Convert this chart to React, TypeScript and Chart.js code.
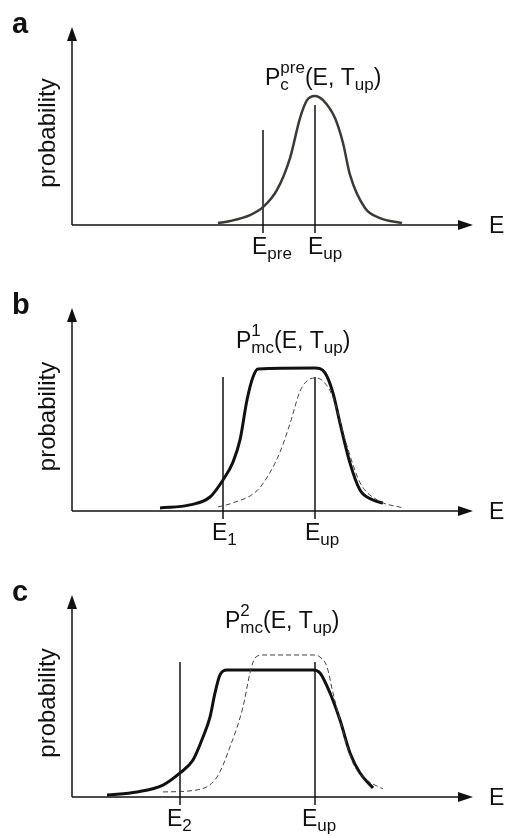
import React, { useEffect, useRef } from "react";
import { Chart, registerables } from "chart.js";

Chart.register(...registerables);

// ---------- data (energy in arbitrary units 0..100, probability 0..1) ----------
const aEnergy = [36.5, 39.5, 44.5, 47.75, 51.25, 54.5, 57, 58.75, 60.75, 62.75, 65.75, 67.75, 69.5, 73.25, 77, 82.5];
const aProb = [0.01, 0.02, 0.05, 0.09, 0.177, 0.338, 0.54, 0.631, 0.652, 0.631, 0.54, 0.414, 0.253, 0.086, 0.035, 0.01];

const bSolidEnergy = [22, 29.5, 34.5, 37.75, 40.25, 42, 43.75, 45.25, 46.5, 60.75, 63.25, 65.25, 67, 69.5, 72, 75.25, 77.75];
const bSolidProb = [0.015, 0.03, 0.069, 0.153, 0.241, 0.35, 0.547, 0.66, 0.7, 0.704, 0.68, 0.581, 0.433, 0.236, 0.103, 0.054, 0.039];
const bDashEnergy = [36.5, 40.25, 46.25, 49.5, 52, 54.5, 57, 59, 60.75, 62.75, 65.25, 68.75, 72, 76.25, 82.75];
const bDashProb = [0.02, 0.04, 0.1, 0.19, 0.29, 0.43, 0.59, 0.645, 0.655, 0.64, 0.56, 0.32, 0.14, 0.055, 0.015];

const cSolidEnergy = [8.75, 16.25, 22.75, 27, 30.25, 32.75, 34.5, 35.75, 37, 38.75, 60.25, 62, 64.5, 67, 69.5, 72, 75.25];
const cSolidProb = [0.01, 0.025, 0.059, 0.119, 0.183, 0.297, 0.396, 0.515, 0.604, 0.629, 0.629, 0.614, 0.515, 0.381, 0.218, 0.119, 0.045];
const cDashEnergy = [22.75, 31.25, 36.25, 39.5, 42.75, 44.5, 45.75, 47.75, 60.25, 62, 63.75, 65.25, 67, 70.25, 73.75, 77.75];
const cDashProb = [0.025, 0.035, 0.099, 0.248, 0.446, 0.614, 0.688, 0.703, 0.703, 0.693, 0.644, 0.515, 0.381, 0.168, 0.084, 0.04];

// marker lines: energy position and top height
const aMarkers = [47.75, 60.75];
const aMarkerTops = [0.48, 0.606];
const bMarkers = [37.75, 60.75];
const bMarkerTops = [0.66, 0.66];
const cMarkers = [27, 60.75];
const cMarkerTops = [0.668, 0.668];

const aMarkerLabels = [["E", "pre"], ["E", "up"]];
const bMarkerLabels = [["E", "1"], ["E", "up"]];
const cMarkerLabels = [["E", "2"], ["E", "up"]];

const FONT = '"Liberation Sans", Arial, Helvetica, sans-serif';

type Part = { t?: string; size: number; dy?: number; sup?: string; sub?: string };

function drawRich(ctx: CanvasRenderingContext2D, x: number, y: number, parts: Part[]) {
  let cx = x;
  for (const p of parts) {
    ctx.font = `${p.size}px ${FONT}`;
    if (p.t !== undefined) {
      ctx.fillText(p.t, cx, y + (p.dy || 0));
      cx += ctx.measureText(p.t).width;
    } else {
      const w1 = p.sup ? ctx.measureText(p.sup).width : 0;
      const w2 = p.sub ? ctx.measureText(p.sub).width : 0;
      if (p.sup) ctx.fillText(p.sup, cx, y - 12);
      if (p.sub) ctx.fillText(p.sub, cx, y + 5);
      cx += Math.max(w1, w2);
    }
  }
}

type PanelCfg = {
  height: number;
  padTop: number;
  padBottom: number;
  letter: string;
  title: Part[];
  titleX: number;
  titleY: number;
  datasets: any[];
  markers: number[];
  labels: string[][];
  labelOffsets: number[];
};

function makePlugin(cfg: PanelCfg) {
  return {
    id: "decor",
    afterDraw(chart: any) {
      const ctx: CanvasRenderingContext2D = chart.ctx;
      const xs = chart.scales.x;
      const ys = chart.scales.y;
      const x0 = xs.getPixelForValue(0);
      const x1 = xs.getPixelForValue(100);
      const y0 = ys.getPixelForValue(0);
      const y1 = ys.getPixelForValue(1);
      ctx.save();
      ctx.strokeStyle = "#111";
      ctx.fillStyle = "#111";
      ctx.lineWidth = 1.5;
      // y axis
      ctx.beginPath();
      ctx.moveTo(x0, y0);
      ctx.lineTo(x0, y1 + 10);
      ctx.stroke();
      ctx.beginPath();
      ctx.moveTo(x0, y1);
      ctx.lineTo(x0 - 5, y1 + 14);
      ctx.lineTo(x0 + 5, y1 + 14);
      ctx.closePath();
      ctx.fill();
      // x axis
      ctx.beginPath();
      ctx.moveTo(x0, y0);
      ctx.lineTo(x1 - 8, y0);
      ctx.stroke();
      ctx.beginPath();
      ctx.moveTo(x1 + 1, y0);
      ctx.lineTo(x1 - 14, y0 - 5);
      ctx.lineTo(x1 - 14, y0 + 5);
      ctx.closePath();
      ctx.fill();
      // axis label E
      ctx.font = `23px ${FONT}`;
      ctx.textBaseline = "alphabetic";
      ctx.fillText("E", x1 + 17, y0 + 8);
      // panel letter
      ctx.font = `bold 29px ${FONT}`;
      ctx.fillText(cfg.letter, 12, y1 + 6);
      // y label
      ctx.save();
      ctx.translate(55, (y0 + y1) / 2 + 7);
      ctx.rotate(-Math.PI / 2);
      ctx.font = `24px ${FONT}`;
      ctx.textAlign = "center";
      ctx.fillText("probability", 0, 0);
      ctx.restore();
      // title
      drawRich(ctx, cfg.titleX, cfg.titleY, cfg.title);
      // marker labels
      cfg.markers.forEach((m, i) => {
        const px = xs.getPixelForValue(m) + cfg.labelOffsets[i];
        const [main, sub] = cfg.labels[i];
        drawRich(ctx, px, y0 + 29, [
          { t: main, size: 23 },
          { t: sub, size: 17, dy: 5 },
        ]);
      });
      ctx.restore();
    },
  };
}

function pts(xsArr: number[], ysArr: number[]) {
  return xsArr.map((x, i) => ({ x, y: ysArr[i] }));
}

function markerSets(markers: number[], tops: number[]) {
  return markers.map((m, i) => ({
    data: [
      { x: m, y: -0.04 },
      { x: m, y: tops[i] },
    ],
    borderColor: "#111",
    borderWidth: 1.5,
    pointRadius: 0,
    showLine: true,
    clip: false,
    tension: 0,
  }));
}

function curve(xsArr: number[], ysArr: number[], color: string, width: number, dash?: number[]) {
  return {
    data: pts(xsArr, ysArr),
    borderColor: color,
    borderWidth: width,
    borderDash: dash || [],
    pointRadius: 0,
    showLine: true,
    cubicInterpolationMode: "monotone",
    clip: false,
  };
}

const panels: PanelCfg[] = [
  {
    height: 280,
    padTop: 27,
    padBottom: 55,
    letter: "a",
    titleX: 265,
    titleY: 85,
    title: [
      { t: "P", size: 23 },
      { sup: "pre", sub: "c", size: 17 },
      { t: "(E, T", size: 23 },
      { t: "up", size: 17, dy: 5 },
      { t: ")", size: 23 },
    ],
    datasets: [
      curve(aEnergy, aProb, "#3b3a33", 2.5),
      ...markerSets(aMarkers, aMarkerTops),
    ],
    markers: aMarkers,
    labels: aMarkerLabels,
    labelOffsets: [-11, -7],
  },
  {
    height: 280,
    padTop: 28,
    padBottom: 49,
    letter: "b",
    titleX: 236,
    titleY: 68,
    title: [
      { t: "P", size: 23 },
      { sup: "1", sub: "mc", size: 17 },
      { t: "(E, T", size: 23 },
      { t: "up", size: 17, dy: 5 },
      { t: ")", size: 23 },
    ],
    datasets: [
      curve(bDashEnergy, bDashProb, "#444", 1, [5, 3]),
      curve(bSolidEnergy, bSolidProb, "#111", 3),
      ...markerSets(bMarkers, bMarkerTops),
    ],
    markers: bMarkers,
    labels: bMarkerLabels,
    labelOffsets: [-11, -10],
  },
  {
    height: 276,
    padTop: 35,
    padBottom: 39,
    letter: "c",
    titleX: 225,
    titleY: 68,
    title: [
      { t: "P", size: 23 },
      { sup: "2", sub: "mc", size: 17 },
      { t: "(E, T", size: 23 },
      { t: "up", size: 17, dy: 5 },
      { t: ")", size: 23 },
    ],
    datasets: [
      curve(cDashEnergy, cDashProb, "#444", 1, [5, 3]),
      curve(cSolidEnergy, cSolidProb, "#111", 3),
      ...markerSets(cMarkers, cMarkerTops),
    ],
    markers: cMarkers,
    labels: cMarkerLabels,
    labelOffsets: [-13, -13],
  },
];

function Panel({ cfg }: { cfg: PanelCfg }) {
  const ref = useRef<HTMLCanvasElement>(null);
  useEffect(() => {
    if (!ref.current) return;
    const chart = new Chart(ref.current, {
      type: "scatter",
      data: { datasets: cfg.datasets },
      options: {
        responsive: false,
        animation: false,
        layout: { padding: { left: 72, right: 33, top: cfg.padTop, bottom: cfg.padBottom } },
        scales: {
          x: { type: "linear", min: 0, max: 100, display: false },
          y: { type: "linear", min: 0, max: 1, display: false },
        },
        plugins: { legend: { display: false }, tooltip: { enabled: false } },
        events: [],
      } as any,
      plugins: [makePlugin(cfg)],
    });
    return () => chart.destroy();
  }, [cfg]);
  return <canvas ref={ref} width={505} height={cfg.height} style={{ display: "block", width: 505, height: cfg.height }} />;
}

export default function App() {
  return (
    <div style={{ position: "absolute", left: 0, top: 0, width: 505, height: 836, background: "#fff" }}>
      {panels.map((p, i) => (
        <Panel key={i} cfg={p} />
      ))}
    </div>
  );
}
